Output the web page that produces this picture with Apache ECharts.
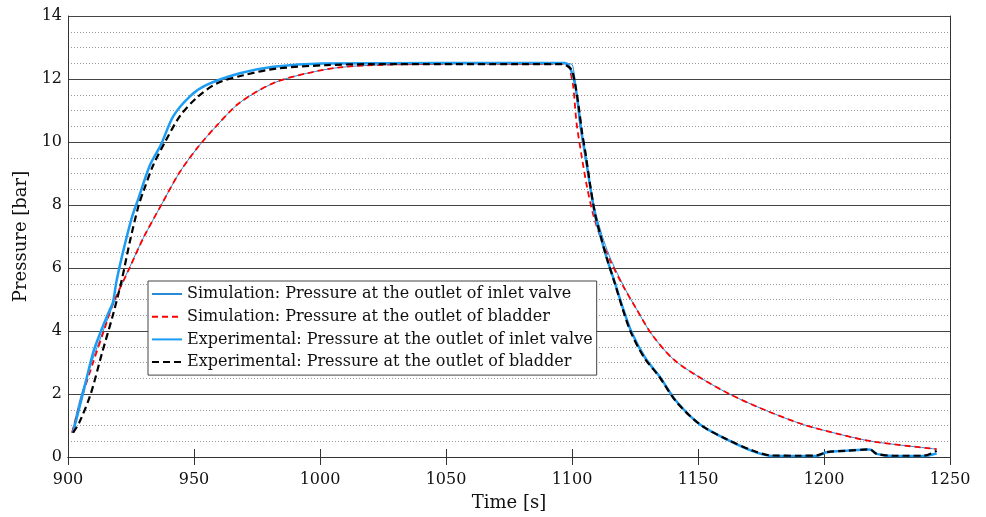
<!DOCTYPE html>
<html>
<head>
<meta charset="utf-8">
<title>Pressure response</title>
<script src="https://cdn.jsdelivr.net/npm/echarts@6/dist/echarts.min.js"></script>
<style>
  html, body { margin: 0; padding: 0; background: #fff; }
  #chart { width: 986px; height: 517px; }
</style>
</head>
<body>
<div id="chart"></div>
<script>
// Axis ticks
const timeTicks = [900, 950, 1000, 1050, 1100, 1150, 1200, 1250];
const pressureTicks = [0, 2, 4, 6, 8, 10, 12, 14];

const seriesNames = [
  'Simulation: Pressure at the outlet of inlet valve',
  'Simulation: Pressure at the outlet of bladder',
  'Experimental: Pressure at the outlet of inlet valve',
  'Experimental: Pressure at the outlet of bladder'
];

// Simulation, inlet valve outlet [s], [bar]
const simValveT = [901.6, 905, 909.9, 913.2, 918.5, 924.6, 930, 937, 944, 951, 959, 968, 981.5, 994.7, 1008, 1025, 1050, 1099.6,
  1100.6, 1101.6, 1102.8, 1104.8, 1107, 1109.6, 1112.6, 1115.6, 1120.6, 1125.7, 1131.6, 1140, 1149.4, 1162.7, 1177.2, 1191.8, 1206.3, 1219.5, 1244.7];
const simValveP = [0.77, 1.9, 3.12, 3.84, 4.95, 6.05, 6.97, 8.0, 9.0, 9.78, 10.52, 11.24, 11.87, 12.18, 12.37, 12.45, 12.48, 12.48,
  12.3, 11.7, 10.7, 9.7, 8.7, 7.7, 6.87, 6.24, 5.41, 4.68, 3.9, 3.12, 2.59, 1.99, 1.47, 1.03, 0.72, 0.49, 0.25];

// Simulation, bladder outlet
const simBladderT = [901.6, 905.8, 910, 914, 918, 924.6, 930, 937, 944, 951, 959, 968, 981.5, 994.7, 1008, 1025, 1050, 1098,
  1099.4, 1100.5, 1101.8, 1103.8, 1105.8, 1108.4, 1111.8, 1115.1, 1120.4, 1125.7, 1131.6, 1140, 1149.4, 1162.7, 1177.2, 1191.8, 1206.3, 1219.5, 1244.7];
const simBladderP = [0.77, 1.97, 3.01, 3.95, 4.89, 6.03, 6.97, 8.0, 9.0, 9.78, 10.52, 11.24, 11.87, 12.18, 12.37, 12.45, 12.48, 12.48,
  12.2, 11.76, 10.61, 9.57, 8.64, 7.7, 6.87, 6.24, 5.41, 4.68, 3.9, 3.12, 2.59, 1.99, 1.47, 1.03, 0.72, 0.49, 0.25];

// Experimental, inlet valve outlet
const expValveT = [902, 906.1, 910, 913, 916.5, 917.8, 919.3, 921.5, 925.3, 928, 932.5, 936.8, 941.8, 948.4, 955, 968.2, 981.5, 1001, 1097.2,
  1100.5, 1102.5, 1103.8, 1105.1, 1107.1, 1109.1, 1111.1, 1113.7, 1117.1, 1120.4, 1123.7, 1129, 1134.9, 1141.5, 1150.8, 1161.4, 1171.9, 1179.9,
  1197, 1201, 1209, 1218.2, 1220.9, 1227.5, 1239.4, 1244.7];
const expValveP = [0.77, 2.07, 3.32, 3.98, 4.66, 4.9, 5.6, 6.4, 7.59, 8.22, 9.26, 9.9, 10.82, 11.45, 11.81, 12.18, 12.39, 12.49, 12.51,
  12.07, 11.13, 10.3, 9.68, 8.64, 7.7, 7.07, 6.34, 5.51, 4.68, 3.95, 3.15, 2.54, 1.76, 1.03, 0.56, 0.18, 0.03,
  0.03, 0.15, 0.2, 0.24, 0.1, 0.03, 0.03, 0.11];

// Experimental, bladder outlet
const expBladderT = [902, 904.5, 909, 913.5, 917.8, 921.3, 924.6, 927.9, 930, 933.8, 938.5, 944.4, 951, 959, 969.6, 982.8, 1002.6, 1020, 1096,
  1098, 1099.9, 1101.2, 1102.7, 1104, 1105.3, 1107.2, 1109.2, 1111.2, 1113.7, 1117, 1120.2, 1123.4, 1128.7, 1134.7, 1141.3, 1150.8, 1161.4, 1171.9, 1179,
  1190, 1197, 1201, 1209, 1218.2, 1220.9, 1227.5, 1239.4, 1244.7];
const expBladderP = [0.77, 1.1, 2.0, 3.3, 4.5, 5.61, 6.86, 7.95, 8.45, 9.26, 10.0, 10.82, 11.4, 11.86, 12.12, 12.33, 12.44, 12.47, 12.47,
  12.42, 12.28, 11.87, 11.1, 10.3, 9.68, 8.64, 7.7, 7.07, 6.34, 5.51, 4.68, 3.95, 3.15, 2.54, 1.76, 1.03, 0.56, 0.2, 0.05,
  0.04, 0.05, 0.15, 0.2, 0.24, 0.1, 0.04, 0.04, 0.2];

const pairs = (t, p) => t.map((x, i) => [x, p[i]]);

const FONT = 'DejaVu Serif';
const chart = echarts.init(document.getElementById('chart'), null, { renderer: 'canvas' });

const xBase = {
  type: 'value',
  min: timeTicks[0],
  max: timeTicks[timeTicks.length - 1],
  interval: timeTicks[1] - timeTicks[0]
};
const yBase = {
  type: 'value',
  min: pressureTicks[0],
  max: pressureTicks[pressureTicks.length - 1],
  interval: pressureTicks[1] - pressureTicks[0]
};

const lineSeries = (name, data, color, width, type, z) => ({
  name, type: 'line', data, symbol: 'none', z,
  smooth: 0.3,
  lineStyle: { color, width, type },
  itemStyle: { color },
  emphasis: { disabled: true }
});

chart.setOption({
  animation: false,
  backgroundColor: '#ffffff',
  grid: { left: 68, right: 36, top: 16, bottom: 54 },
  legend: {
    orient: 'vertical',
    left: 148,
    top: 281,
    data: seriesNames,
    itemWidth: 30,
    itemHeight: 1,
    itemGap: 4.7,
    padding: [4, 4, 4, 3],
    backgroundColor: '#ffffff',
    borderColor: '#444',
    borderWidth: 1,
    borderRadius: 0,
    textStyle: { fontFamily: FONT, fontSize: 16, color: '#111', lineHeight: 18 }
  },
  xAxis: [
    Object.assign({}, xBase, {
      position: 'bottom',
      name: 'Time [s]',
      nameLocation: 'middle',
      nameGap: 37,
      nameTextStyle: { fontFamily: FONT, fontSize: 18, color: '#111' },
      axisLine: { show: true, lineStyle: { color: '#333', width: 1 } },
      axisTick: { show: true, inside: true, length: 8, lineStyle: { color: '#333' } },
      axisLabel: { fontFamily: FONT, fontSize: 16, color: '#111', margin: 15, formatter: v => String(v) },
      splitLine: { show: false }
    }),
    Object.assign({}, xBase, {
      position: 'top',
      axisLine: { show: true, lineStyle: { color: '#333', width: 1 } },
      axisTick: { show: true, inside: true, length: 8, lineStyle: { color: '#333' } },
      axisLabel: { show: false },
      splitLine: { show: false }
    })
  ],
  yAxis: [
    Object.assign({}, yBase, {
      position: 'left',
      name: 'Pressure [bar]',
      nameLocation: 'middle',
      nameGap: 25,
      nameTextStyle: { fontFamily: FONT, fontSize: 18, color: '#111' },
      axisLine: { show: true, lineStyle: { color: '#333', width: 1 } },
      axisTick: { show: false },
      axisLabel: { fontFamily: FONT, fontSize: 16, color: '#111', margin: 6, formatter: v => String(v) },
      splitLine: { show: true, lineStyle: { color: '#444', width: 1 } },
      minorTick: { show: false, splitNumber: 4 },
      minorSplitLine: { show: true, lineStyle: { color: '#999', width: 1, type: [1, 2] } }
    }),
    Object.assign({}, yBase, {
      position: 'right',
      axisLine: { show: true, lineStyle: { color: '#333', width: 1 } },
      axisTick: { show: false },
      axisLabel: { show: false },
      splitLine: { show: false }
    })
  ],
  series: [
    lineSeries(seriesNames[0], pairs(simValveT, simValveP), '#2b8ad8', 1, 'solid', 2),
    lineSeries(seriesNames[1], pairs(simBladderT, simBladderP), '#ff0000', 1.8, [6, 4], 3),
    lineSeries(seriesNames[2], pairs(expValveT, expValveP), '#1c9cf2', 2.5, 'solid', 4),
    lineSeries(seriesNames[3], pairs(expBladderT, expBladderP), '#000000', 2.2, [7, 4], 5)
  ]
});
</script>
</body>
</html>
